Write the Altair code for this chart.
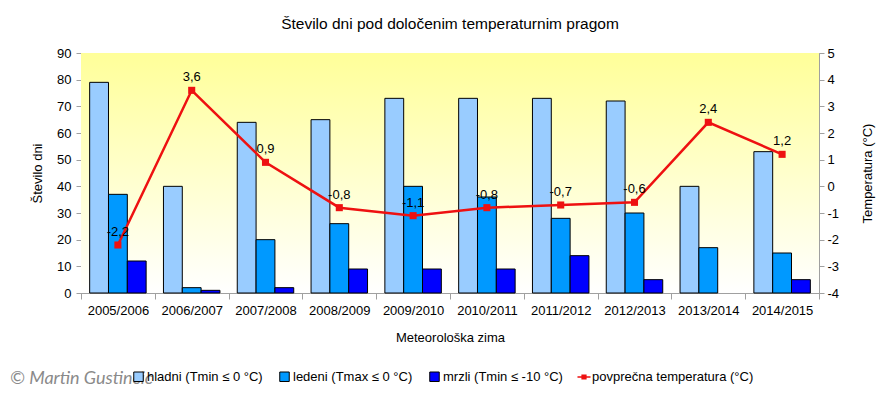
import altair as alt
import pandas as pd

seasons = ["2005/2006", "2006/2007", "2007/2008", "2008/2009", "2009/2010",
           "2010/2011", "2011/2012", "2012/2013", "2013/2014", "2014/2015"]
hladni = [79, 40, 64, 65, 73, 73, 73, 72, 40, 53]
ledeni = [37, 2, 20, 26, 40, 36, 28, 30, 17, 15]
mrzli = [12, 1, 2, 9, 9, 9, 14, 5, 0, 5]
temperatura = [-2.2, 3.6, 0.9, -0.8, -1.1, -0.8, -0.7, -0.6, 2.4, 1.2]

series_names = ["hladni (Tmin ≤ 0 °C)", "ledeni (Tmax ≤ 0 °C)", "mrzli (Tmin ≤ -10 °C)"]
series_colors = ["#99ccff", "#0099ff", "#0000ff"]
line_name = "povprečna temperatura (°C)"
line_color = "#ee1111"
left_ticks = [0, 10, 20, 30, 40, 50, 60, 70, 80, 90]
right_ticks = [-4, -3, -2, -1, 0, 1, 2, 3, 4, 5]
title_text = "Število dni pod določenim temperaturnim pragom"
credit_text = "© Martin Gustincic"

FONT = "Liberation Sans"
W, H = 738, 240

rows = []
for i, s in enumerate(seasons):
    for name, vals in zip(series_names, [hladni, ledeni, mrzli]):
        rows.append({"season": s, "series": name, "days": vals[i]})
bars_df = pd.DataFrame(rows)
temp_df = pd.DataFrame({"season": seasons, "temp": temperatura, "name": line_name})

x_enc = alt.X("season:N", sort=seasons,
              scale=alt.Scale(paddingInner=0, paddingOuter=0),
              axis=alt.Axis(title="Meteorološka zima", labelAngle=0, tickBand="extent",
                            tickSize=6, labelPadding=5, titlePadding=14,
                            domainColor="#a0a0a0", tickColor="#a0a0a0"))

bg = alt.Chart(pd.DataFrame({"a": [0]})).mark_rect(
    color=alt.Gradient(gradient="linear",
                       stops=[alt.GradientStop(color="#ffff99", offset=0),
                              alt.GradientStop(color="#ffffff", offset=1)],
                       x1=0, x2=0, y1=0, y2=1)
).encode(x=alt.value(0), x2=alt.value(W), y=alt.value(0), y2=alt.value(H))

bars = alt.Chart(bars_df).transform_filter("datum.days > 0").mark_bar(
    stroke="black", strokeWidth=1
).encode(
    x=x_enc,
    xOffset=alt.XOffset("series:N", sort=series_names,
                        scale=alt.Scale(paddingInner=0, paddingOuter=0.46)),
    y=alt.Y("days:Q", scale=alt.Scale(domain=[0, 90], nice=False),
            axis=alt.Axis(title="Število dni", values=left_ticks, grid=True,
                          gridDash=[3, 2], gridColor="#b0b0b0", tickSize=5,
                          labelPadding=5, titlePadding=12,
                          domainColor="#a0a0a0", tickColor="#a0a0a0")),
    color=alt.Color("series:N",
                    scale=alt.Scale(domain=series_names, range=series_colors),
                    legend=alt.Legend(title=None, orient="none", direction="horizontal",
                                      legendX=51, legendY=317, padding=0,
                                      symbolType="square", symbolSize=90,
                                      symbolStrokeColor="black", symbolStrokeWidth=1,
                                      labelOffset=2, columnPadding=14, labelLimit=0)),
)

y_temp = alt.Y("temp:Q", scale=alt.Scale(domain=[-4, 5], nice=False),
               axis=alt.Axis(title="Temperatura (°C)", orient="right", values=right_ticks,
                             grid=False, titleAngle=270, tickSize=5, labelPadding=3,
                             titlePadding=36, labelExpr="toString(datum.value)",
                             domainColor="#a0a0a0", tickColor="#a0a0a0"))

line = alt.Chart(temp_df).mark_line(strokeWidth=2.5).encode(
    x=x_enc, y=y_temp,
    stroke=alt.Stroke("name:N", scale=alt.Scale(domain=[line_name], range=[line_color]),
                      legend=alt.Legend(title=None, orient="none", direction="horizontal",
                                        legendX=496, legendY=317, padding=0,
                                        symbolType="M-1,-0.12H1V0.12H-1Z M-0.4,-0.4H0.4V0.4H-0.4Z",
                                        symbolSize=170, symbolFillColor=line_color,
                                        symbolStrokeWidth=0, labelOffset=1, labelLimit=0)),
)
points = alt.Chart(temp_df).mark_square(size=50, color=line_color, opacity=1).encode(
    x=x_enc, y=y_temp)
labels = alt.Chart(temp_df).transform_calculate(
    lab="replace(toString(datum.temp), '.', ',')"
).mark_text(dy=-13, fontSize=13, font=FONT, color="black").encode(
    x=x_enc, y=y_temp, text="lab:N")

credit = alt.Chart(pd.DataFrame({"t": [credit_text]})).mark_text(
    align="left", baseline="middle", font="Lato", fontStyle="italic",
    fontSize=18, color="#8a8a8a"
).encode(x=alt.value(-71), y=alt.value(326), text="t:N")

chart = alt.layer(
    bg, bars, alt.layer(line, points, labels), credit
).resolve_scale(y="independent").properties(
    width=W, height=H,
    title=alt.TitleParams(title_text, fontSize=15.5, font=FONT, fontWeight="normal",
                          anchor="middle", offset=15, color="black"),
    autosize=alt.AutoSizeParams(type="none"),
    padding={"left": 73, "top": 45, "right": 68, "bottom": 92},
).configure_view(stroke="#b0b0b0").configure_axis(
    labelFont=FONT, titleFont=FONT, labelFontSize=13, titleFontSize=13,
    labelColor="black", titleColor="black", titleFontWeight="normal"
).configure_legend(labelFont=FONT, labelFontSize=13, labelColor="black")

chart.save("out.html", embed_options={"renderer": "svg", "actions": False})
